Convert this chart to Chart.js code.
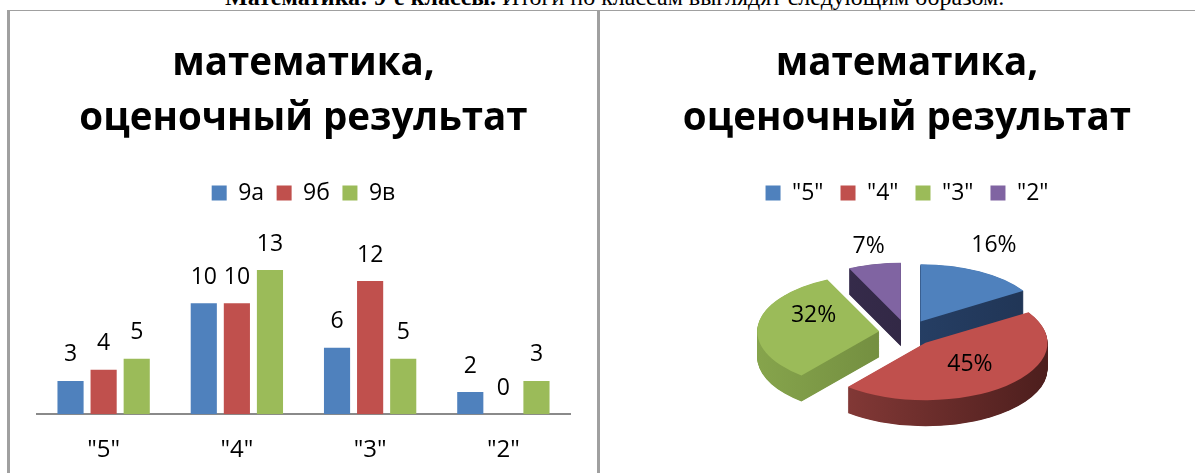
<!DOCTYPE html>
<html lang="ru">
<head>
<meta charset="utf-8">
<script src="https://cdn.jsdelivr.net/npm/chart.js@4.4.1/dist/chart.umd.min.js"></script>
<style>
  html, body { margin: 0; padding: 0; background: #fff; }
  body { width: 1195px; height: 473px; overflow: hidden; position: relative; }
  .caption { position: absolute; left: 225px; top: -15px; font: 24px "Liberation Serif", serif; line-height: 24px; white-space: nowrap; color: #000; }
  .frame { position: absolute; top: 10px; height: 463px; border-top: 1px solid #a0a0a0; border-left: 3px solid #a0a0a0; box-sizing: border-box; }
  #frameLeft { left: 7px; width: 590px; }
  #frameRight { left: 597px; width: 598px; }
  canvas { position: absolute; top: 11px; }
  #bars { left: 10px; }
  #pie { left: 600px; }
</style>
</head>
<body>
<div class="caption"><b>Математика: 9-е классы.</b> Итоги по классам выглядят следующим образом.</div>
<div class="frame" id="frameLeft"></div>
<div class="frame" id="frameRight"></div>
<canvas id="bars" width="587" height="488"></canvas>
<canvas id="pie" width="614" height="462"></canvas>
<script>
const TITLE = ['математика,', 'оценочный результат'];
const GRADES = ['"5"', '"4"', '"3"', '"2"'];
const CLASSES = ['9а', '9б', '9в'];
const CLASS_9A = [3, 10, 6, 2];
const CLASS_9B = [4, 10, 12, 0];
const CLASS_9V = [5, 13, 5, 3];
const SHARES = [16, 45, 32, 7];   // % of all marks

const COLORS = ['#4F81BD', '#C0504D', '#9BBB59', '#8064A2'];
const SIDES = [['#2d4b78', '#1f3352'], ['#9a4441', '#4a1d1c'], ['#86a44c', '#5a7130'], ['#3a2f52', '#2a2138']];

const FONT = '"Open Sans"';
const titleOpts = {
    display: true,
    text: TITLE,
    font: {family: FONT, size: 38.5, weight: 'bold', lineHeight: '55px'},
    color: '#000',
    padding: {top: 26, bottom: 22},
};

Chart.defaults.animation = false;
Chart.defaults.color = '#000';

// numbers above bars
const barValues = {
    id: 'barValues',
    afterDatasetsDraw(chart) {
        const ctx = chart.ctx;
        ctx.save();
        ctx.font = '23px ' + FONT;
        ctx.fillStyle = '#000';
        ctx.textAlign = 'center';
        ctx.textBaseline = 'middle';
        chart.data.datasets.forEach((ds, i) => {
            chart.getDatasetMeta(i).data.forEach((bar, j) => {
                ctx.fillText(ds.data[j], bar.x, bar.y - 26);
            });
        });
        ctx.restore();
    }
};

new Chart(document.getElementById('bars'), {
    type: 'bar',
    data: {
        labels: GRADES,
        datasets: [
            {label: CLASSES[0], data: CLASS_9A, backgroundColor: COLORS[0]},
            {label: CLASSES[1], data: CLASS_9B, backgroundColor: COLORS[1]},
            {label: CLASSES[2], data: CLASS_9V, backgroundColor: COLORS[2]},
        ]
    },
    options: {
        responsive: false,
        devicePixelRatio: 1,
        datasets: {bar: {barPercentage: 0.79, categoryPercentage: 0.745}},
        layout: {padding: {left: 27, right: 27, bottom: 12}},
        scales: {
            x: {
                grid: {display: false, drawTicks: false},
                border: {color: '#8a8a8a', width: 2},
                ticks: {font: {family: FONT, size: 24}, color: '#000', padding: 22},
            },
            y: {display: false, min: 0, max: 18},
        },
        plugins: {
            title: titleOpts,
            legend: {
                labels: {font: {family: FONT, size: 23}, boxWidth: 15, boxHeight: 15, padding: 12.5, color: '#000'},
            },
            tooltip: {enabled: false},
        }
    },
    plugins: [barValues]
});

// exploded 3D look for the pie: squash, extrude, push slices out
const SQUASH = 0.47;
const DEPTH = 26;
const EXPLODE = 28;
const PIE_CY = 322;
const LABEL_R = [1.25, 0.6, 0.6, 1.25];
const LABEL_NUDGE = [[0, -13], [-4, -4], [7, -12], [1, -4]];

function push(el) {
    const mid = (el.startAngle + el.endAngle) / 2;
    return [Math.cos(mid) * EXPLODE, Math.sin(mid) * EXPLODE];
}

const pie3d = {
    id: 'pie3d',
    beforeDatasetsDraw(chart) {
        const ctx = chart.ctx;
        const arcs = chart.getDatasetMeta(0).data;
        const cx = arcs[0].x, cy = arcs[0].y, r = arcs[0].outerRadius;
        ctx.save();
        ctx.translate(cx, PIE_CY);
        ctx.scale(1, SQUASH);
        ctx.translate(-cx, -cy);
        const fills = SIDES.map(s => {
            const g = ctx.createLinearGradient(cx - r - EXPLODE, 0, cx + r + EXPLODE, 0);
            g.addColorStop(0, s[0]);
            g.addColorStop(1, s[1]);
            return g;
        });
        for (let d = DEPTH; d > 0; d -= 0.5) {
            arcs.forEach((el, i) => {
                const [dx, dy] = push(el);
                const y = el.y + dy + d / SQUASH;
                ctx.fillStyle = fills[i];
                ctx.beginPath();
                ctx.moveTo(el.x + dx, y);
                ctx.arc(el.x + dx, y, el.outerRadius, el.startAngle, el.endAngle);
                ctx.closePath();
                ctx.fill();
            });
        }
        arcs.forEach(el => {
            const [dx, dy] = push(el);
            ctx.save();
            ctx.translate(dx, dy);
            el.draw(ctx);
            ctx.restore();
        });
        ctx.restore();
        return false;
    },
    afterDraw(chart) {
        const ctx = chart.ctx;
        const arcs = chart.getDatasetMeta(0).data;
        ctx.save();
        ctx.font = '23px ' + FONT;
        ctx.fillStyle = '#000';
        ctx.textAlign = 'center';
        ctx.textBaseline = 'middle';
        arcs.forEach((el, i) => {
            const mid = (el.startAngle + el.endAngle) / 2;
            const rr = el.outerRadius * LABEL_R[i] + EXPLODE;
            const x = el.x + Math.cos(mid) * rr + LABEL_NUDGE[i][0];
            const y = PIE_CY + Math.sin(mid) * rr * SQUASH + LABEL_NUDGE[i][1];
            ctx.fillText(SHARES[i] + '%', x, y);
        });
        ctx.restore();
    }
};

new Chart(document.getElementById('pie'), {
    type: 'pie',
    data: {
        labels: GRADES,
        datasets: [{data: SHARES, backgroundColor: COLORS, borderWidth: 0, radius: 122}]
    },
    options: {
        responsive: false,
        devicePixelRatio: 1,
        layout: {padding: {bottom: 12}},
        plugins: {
            title: {...titleOpts, padding: {top: 26, bottom: 17.5}},
            legend: {
                labels: {font: {family: FONT, size: 23}, boxWidth: 15, boxHeight: 15, padding: 17, color: '#000'},
            },
            tooltip: {enabled: false},
        }
    },
    plugins: [pie3d]
});
</script>
</body>
</html>
